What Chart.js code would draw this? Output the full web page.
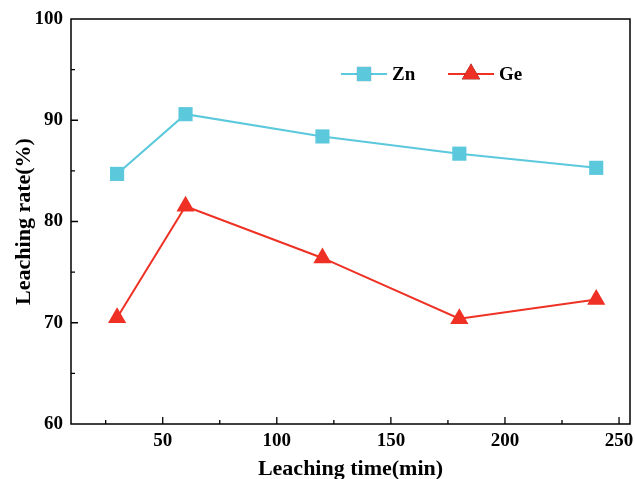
<!DOCTYPE html>
<html>
<head>
<meta charset="utf-8">
<script src="https://cdn.jsdelivr.net/npm/chart.js@4"></script>
<style>
  body { margin: 0; background: #fff; }
  #wrap { width: 635px; height: 479px; }
</style>
</head>
<body>
<div id="wrap"><canvas id="myChart" width="635" height="479"></canvas></div>
<script>
// data
const times = [30, 60, 120, 180, 240];
const znRate = [84.7, 90.6, 88.4, 86.7, 85.3];
const geRate = [70.5, 81.5, 76.4, 70.4, 72.3];
const xTicks = [50, 100, 150, 200, 250];
const yTicks = [60, 70, 80, 90, 100];

const FONT = '"Liberation Serif", "Times New Roman", serif';
const znColor = '#5bc8dc';
const geColor = '#ee3124';

// frame, inward ticks and legend inside the plot
const framePlugin = {
  id: 'frame',
  afterDraw(chart) {
    const {ctx, chartArea: a, scales} = chart;
    ctx.save();
    ctx.strokeStyle = '#000';
    ctx.lineWidth = 1.5;
    ctx.strokeRect(a.left, a.top, a.right - a.left, a.bottom - a.top);
    ctx.lineWidth = 1.3;
    ctx.beginPath();
    for (let v = 25; v <= 250; v += 25) {
      const x = scales.x.getPixelForValue(v);
      const len = v % 50 === 0 ? 7 : 4;
      ctx.moveTo(x, a.bottom);
      ctx.lineTo(x, a.bottom - len);
    }
    for (let v = 65; v < 100; v += 5) {
      const y = scales.y.getPixelForValue(v);
      const len = v % 10 === 0 ? 7 : 4;
      ctx.moveTo(a.left, y);
      ctx.lineTo(a.left + len, y);
    }
    ctx.stroke();

    // legend
    const items = [
      {label: 'Zn', ds: chart.data.datasets[0], x: 341},
      {label: 'Ge', ds: chart.data.datasets[1], x: 448}
    ];
    const ly = 74;
    items.forEach(it => {
      ctx.strokeStyle = it.ds.borderColor;
      ctx.lineWidth = 2;
      ctx.beginPath();
      ctx.moveTo(it.x, ly);
      ctx.lineTo(it.x + 46, ly);
      ctx.stroke();
      Chart.helpers.drawPoint(ctx, {
        pointStyle: it.ds.pointStyle,
        radius: it.ds.pointRadius,
        borderWidth: 0,
        rotation: 0
      }, it.x + 23, ly);
      ctx.fillStyle = it.ds.borderColor;
      ctx.fill();
      ctx.fillStyle = '#000';
      ctx.font = 'bold 19px ' + FONT;
      ctx.textBaseline = 'middle';
      ctx.textAlign = 'left';
      ctx.fillText(it.label, it.x + 51, ly + 1);
    });
    ctx.restore();
  }
};

const ctx = document.getElementById('myChart');

new Chart(ctx, {
  type: 'line',
  data: {
    datasets: [
      {
        label: 'Zn',
        data: times.map((t, i) => ({x: t, y: znRate[i]})),
        borderColor: znColor,
        backgroundColor: znColor,
        borderWidth: 2,
        pointStyle: 'rect',
        pointRadius: 10,
        pointBorderWidth: 0,
        tension: 0,
      },
      {
        label: 'Ge',
        data: times.map((t, i) => ({x: t, y: geRate[i]})),
        borderColor: geColor,
        backgroundColor: geColor,
        borderWidth: 2,
        pointStyle: 'triangle',
        pointRadius: 10.5,
        pointBorderWidth: 0,
        tension: 0,
      },
    ],
  },
  options: {
    responsive: false,
    animation: false,
    layout: {autoPadding: false, padding: {top: 19, right: 5, left: 0, bottom: 0}},
    plugins: {legend: {display: false}, tooltip: {enabled: false}},
    scales: {
      x: {
        type: 'linear',
        min: 9.8,
        max: 254.8,
        afterBuildTicks(s) { s.ticks = xTicks.map(v => ({value: v})); },
        afterFit(s) {
          s.height = 55;
          s.paddingLeft = 0;
          s.paddingRight = 0;
        },
        grid: {display: false, drawTicks: false},
        border: {display: false},
        ticks: {
          color: '#000',
          font: {family: FONT, size: 19, weight: 'bold'},
          padding: 6,
          maxRotation: 0,
        },
        title: {
          display: true,
          text: 'Leaching time(min)',
          color: '#000',
          font: {family: FONT, size: 22, weight: 'bold'},
          padding: {top: 0, bottom: -4},
        },
      },
      y: {
        min: 60,
        max: 100,
        afterBuildTicks(s) { s.ticks = yTicks.map(v => ({value: v})); },
        afterFit(s) {
          s.width = 71;
          s.paddingTop = 0;
          s.paddingBottom = 0;
        },
        grid: {display: false, drawTicks: false},
        border: {display: false},
        ticks: {
          color: '#000',
          font: {family: FONT, size: 19, weight: 'bold'},
          padding: 8,
        },
        title: {
          display: true,
          text: 'Leaching rate(%)',
          color: '#000',
          font: {family: FONT, size: 22, weight: 'bold'},
          padding: {top: 11, bottom: 0},
        },
      },
    },
  },
  plugins: [framePlugin],
});
</script>
</body>
</html>
